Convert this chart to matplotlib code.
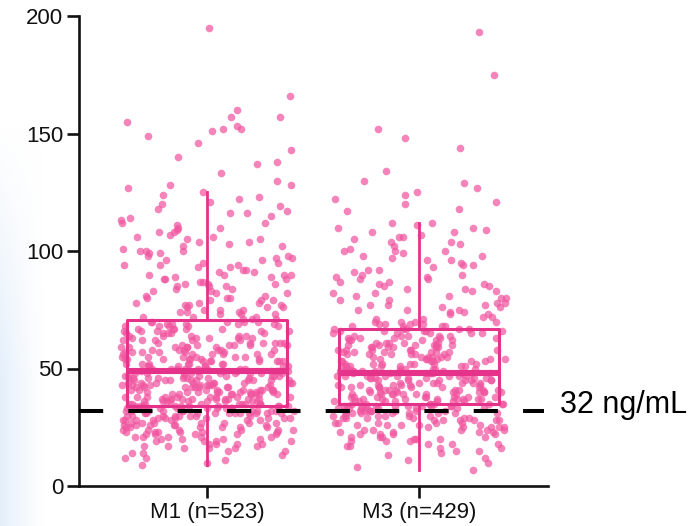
import numpy as np
import matplotlib
matplotlib.use("Agg")
import matplotlib.pyplot as plt

plt.rcParams.update({
    "font.family": ["Liberation Sans", "DejaVu Sans"],
    "font.size": 16,
})

# ── Data ─────────────────────────────────────────────────────────────────────
CATEGORIES = ["M1 (n=523)", "M3 (n=429)"]
THRESHOLD = 32
THRESHOLD_LABEL = "32 ng/mL"
Y_TICKS = [0, 50, 100, 150, 200]

M1_VALUES = [
    9, 10, 11, 12, 12, 13, 14, 14, 15, 15,
    16, 16, 16, 17, 17, 17, 18, 18, 18, 18, 19, 19, 19, 19, 20, 20, 20, 20,
    21, 21, 21, 21, 21, 22, 22, 22, 22, 22,
    23, 23, 23, 23, 23, 23, 24, 24, 24, 24, 24, 24, 25, 25, 25, 25, 25, 25,
    26, 26, 26, 26, 26, 26, 27, 27, 27, 27, 27, 27, 27,
    28, 28, 28, 28, 28, 28, 28, 29, 29, 29, 29, 29, 29, 29,
    30, 30, 30, 30, 30, 30, 30, 30,
    31, 31, 31, 31, 31, 31, 31, 31, 31, 31, 31,
    32, 32, 32, 32, 32, 32, 32, 32, 32, 32, 32, 32,
    33, 33, 33, 33, 33, 33, 33, 33, 33, 33, 33, 33,
    34, 34, 34, 34, 34, 34, 34, 34, 34, 34,
    35, 35, 35, 35, 35, 35, 35, 35, 35, 35,
    36, 36, 36, 36, 36, 36, 36, 36, 36,
    37, 37, 37, 37, 37, 37, 37, 37, 37,
    38, 38, 38, 38, 38, 38, 38, 38, 38,
    39, 39, 39, 39, 39, 39, 39, 39, 39,
    40, 40, 40, 40, 40, 40, 40, 40, 40,
    41, 41, 41, 41, 41, 41, 41, 41, 41,
    42, 42, 42, 42, 42, 42, 42, 42, 42,
    43, 43, 43, 43, 43, 43, 43, 43, 43,
    44, 44, 44, 44, 44, 44, 44, 44, 44,
    45, 45, 45, 45, 45, 45, 45, 45, 45,
    46, 46, 46, 46, 46, 46, 46, 46,
    47, 47, 47, 47, 47, 47, 47, 47,
    48, 48, 48, 48, 48, 48, 48, 48, 48,
    49, 49, 49, 49, 49, 49, 49, 49,
    50, 50, 50, 50, 50, 50, 50, 50,
    51, 51, 51, 51, 51, 51, 51, 52, 52, 52, 52, 52, 52, 52,
    53, 53, 53, 53, 53, 53, 53, 54, 54, 54, 54, 54, 54, 54,
    55, 55, 55, 55, 55, 55, 56, 56, 56, 56, 56, 56,
    57, 57, 57, 57, 57, 57, 58, 58, 58, 58, 58, 58,
    59, 59, 59, 59, 59, 59, 60, 60, 60, 60, 60, 60,
    61, 61, 61, 61, 61, 61,
    62, 62, 62, 62, 62, 63, 63, 63, 63, 63, 64, 64, 64, 64, 64,
    65, 65, 65, 65, 65, 66, 66, 66, 66, 66, 67, 67, 67, 67, 67,
    68, 68, 68, 68, 68, 69, 69, 69, 69, 69, 70, 70, 70, 70, 70,
    71, 71, 71, 72, 72, 72, 73, 73, 73, 74, 74, 74, 75, 75, 75,
    76, 76, 76, 77, 77, 77, 78, 78, 78, 79, 79, 79, 80, 80, 80,
    81, 81, 82, 82, 83, 83, 84, 84, 85, 85, 85, 86, 86, 86,
    87, 87, 88, 88, 88, 89, 89, 90, 90, 90, 90,
    91, 91, 92, 92, 93, 93, 94, 94, 94, 95, 95,
    96, 96, 97, 97, 98, 98, 99, 99, 100, 100, 100,
    101, 102, 102, 103, 104, 104, 105, 105, 106, 106, 107, 108, 108, 109, 110, 110,
    111, 112, 112, 113, 114, 115, 116, 116, 117, 118, 119, 120, 121, 122, 123, 124, 125,
    127, 128, 128, 130, 133, 137, 138, 140, 143, 146, 149,
    151, 152, 152, 153, 155, 157, 157, 160, 166, 195,
]

M3_VALUES = [
    7, 8, 10, 11, 12, 13, 14, 15, 15,
    16, 16, 17, 17, 18, 18, 18, 19, 19, 19, 20, 20, 20,
    21, 21, 21, 21, 22, 22, 22, 22, 23, 23, 23, 23,
    24, 24, 24, 24, 24, 25, 25, 25, 25, 25,
    26, 26, 26, 26, 26, 27, 27, 27, 27, 27,
    28, 28, 28, 28, 28, 28, 29, 29, 29, 29, 29, 29, 30, 30, 30, 30, 30, 30,
    31, 31, 31, 31, 31, 31, 31, 31,
    32, 32, 32, 32, 32, 32, 32, 32, 32,
    33, 33, 33, 33, 33, 33, 33, 33, 33,
    34, 34, 34, 34, 34, 34, 34, 34, 34,
    35, 35, 35, 35, 35, 35, 35, 35,
    36, 36, 36, 36, 36, 36, 36, 36,
    37, 37, 37, 37, 37, 37, 37, 37,
    38, 38, 38, 38, 38, 38, 38, 38,
    39, 39, 39, 39, 39, 39, 39, 39,
    40, 40, 40, 40, 40, 40, 40, 40,
    41, 41, 41, 41, 41, 41, 41, 41,
    42, 42, 42, 42, 42, 42, 42,
    43, 43, 43, 43, 43, 43, 43,
    44, 44, 44, 44, 44, 44, 44,
    45, 45, 45, 45, 45, 45, 45,
    46, 46, 46, 46, 46, 46, 46,
    47, 47, 47, 47, 47, 47, 47, 47,
    48, 48, 48, 48, 48, 48, 48, 48, 48,
    49, 49, 49, 49, 49, 49, 49, 50, 50, 50, 50, 50, 50, 50,
    51, 51, 51, 51, 51, 51, 51, 52, 52, 52, 52, 52, 52, 52,
    53, 53, 53, 53, 53, 53, 54, 54, 54, 54, 54, 54,
    55, 55, 55, 55, 55, 55, 56, 56, 56, 56, 56, 56,
    57, 57, 57, 57, 57, 57, 58, 58, 58, 58, 58, 58,
    59, 59, 59, 59, 59, 59, 60, 60, 60, 60, 60, 60,
    61, 61, 61, 61, 61, 62, 62, 62, 62, 62, 63, 63, 63, 63, 63,
    64, 64, 64, 64, 64, 65, 65, 65, 65, 65, 66, 66, 66, 66, 66,
    67, 67, 67, 67, 67, 68, 68, 68, 68, 69, 69, 69, 69, 70, 70, 70, 70,
    71, 71, 72, 72, 73, 73, 74, 74, 75, 75, 75,
    76, 76, 77, 77, 77, 78, 78, 79, 79, 80, 80,
    81, 81, 82, 82, 83, 83, 84, 84, 85, 85,
    86, 86, 87, 87, 88, 88, 89, 89, 90, 90,
    91, 92, 92, 93, 94, 94, 95, 96, 96, 97, 98, 98, 99, 100, 100, 100,
    101, 102, 103, 104, 104, 105, 106, 106, 107, 108, 108, 109, 110, 110, 111, 112, 112,
    117, 118, 120, 121, 122, 124, 125, 127, 129, 130, 134, 144, 148, 152, 175, 193,
]

# ── Style ─────────────────────────────────────────────────────────────────────
PINK_BOX = "#E5338B"
PINK_DOT = "#F0559F"
INK = "#111111"

fig = plt.figure(figsize=(6.91, 5.26), dpi=100)

# faint slide background peeking in at the left edge
bg = fig.add_axes([0, 0, 0.068, 0.76], zorder=-5)
gx = np.linspace(1, 0, 60)[None, :]
gy = np.clip(np.linspace(0, 1.6, 200)[:, None], 0, 1)
rgba = np.zeros((200, 60, 4))
rgba[..., 0], rgba[..., 1], rgba[..., 2] = 0.86, 0.92, 0.98
rgba[..., 3] = 0.75 * gx ** 1.3 * gy
bg.imshow(rgba, aspect="auto", origin="upper", extent=[0, 1, 0, 1])
bg.axis("off")

ax = fig.add_axes([79 / 691, 1 - 486 / 526, (548 - 79) / 691, (486 - 16) / 526])
ax.patch.set_alpha(0)

positions = [0, 1]
datasets = [np.array(M1_VALUES, dtype=float), np.array(M3_VALUES, dtype=float)]

# jittered points
rng = np.random.default_rng(11)
for pos, vals in zip(positions, datasets):
    xj = pos + rng.uniform(-0.41, 0.41, len(vals))
    ax.scatter(xj, vals, s=30, color=PINK_DOT, alpha=0.72, linewidths=0,
               zorder=2, clip_on=False)

# boxes (Tukey whiskers, no caps, no fliers)
ax.boxplot(datasets, positions=positions, widths=0.755, whis=1.5,
           showfliers=False, showcaps=False, manage_ticks=False,
           boxprops=dict(color=PINK_BOX, linewidth=2.2),
           whiskerprops=dict(color=PINK_BOX, linewidth=2.0),
           medianprops=dict(color=PINK_BOX, linewidth=4.4, solid_capstyle="butt"),
           zorder=3)

# threshold line and label
ax.plot([-0.604, 1.59], [THRESHOLD, THRESHOLD], color="black", linewidth=2.9,
        dashes=(6, 6.25), zorder=4, clip_on=False, solid_capstyle="butt",
        dash_capstyle="butt")
ax.text(1.665, THRESHOLD - 1, THRESHOLD_LABEL, fontsize=22, color="black",
        ha="left", va="baseline", clip_on=False)

# axes
ax.set_xlim(-0.604, 1.608)
ax.set_ylim(0, 200)
ax.set_yticks(Y_TICKS)
ax.set_xticks(positions)
ax.set_xticklabels(CATEGORIES)
for side in ("top", "right"):
    ax.spines[side].set_visible(False)
for side in ("left", "bottom"):
    ax.spines[side].set_linewidth(1.9)
    ax.spines[side].set_color(INK)
ax.tick_params(axis="both", direction="out", length=8.5, width=1.9,
               color=INK, labelcolor=INK, labelsize=16, pad=3)

plt.savefig("out.png", dpi=100)
